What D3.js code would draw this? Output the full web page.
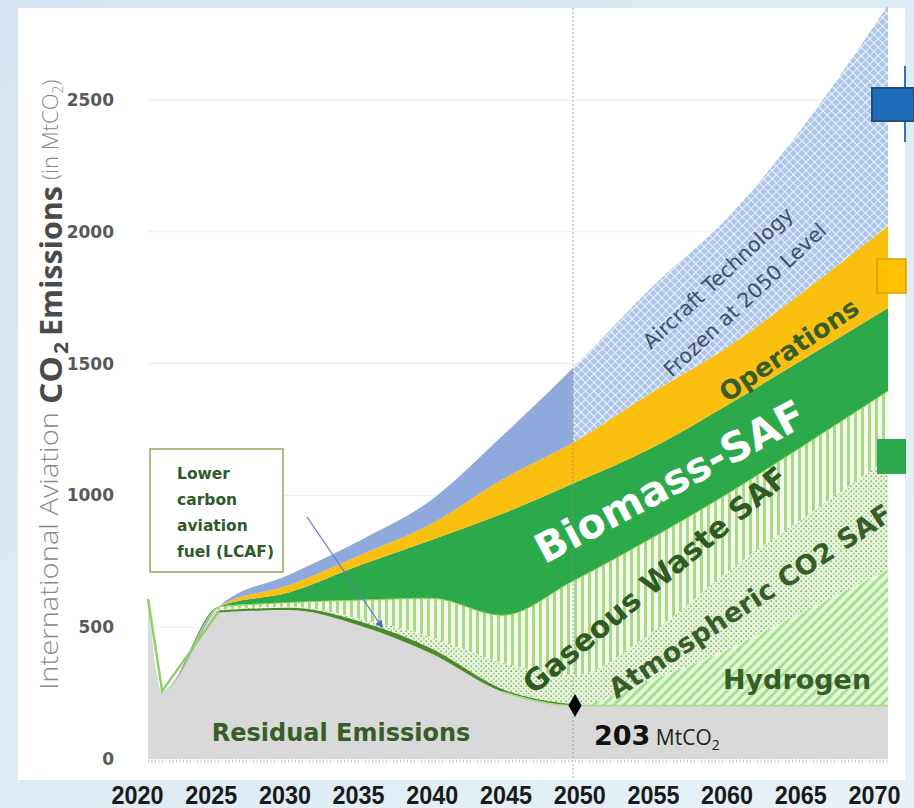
<!DOCTYPE html>
<html>
<head>
<meta charset="utf-8">
<script src="https://cdn.jsdelivr.net/npm/d3@7"></script>
<style>
  html, body { margin: 0; padding: 0; }
  body { width: 914px; height: 808px; overflow: hidden; background: #e3eef5; }
  svg { display: block; }
</style>
</head>
<body>
<svg id="chart" width="914" height="808"></svg>
<script>
// ---------------- DATA ----------------
const years        = [2020, 2021, 2025, 2030, 2035, 2040, 2045, 2050, 2055, 2060, 2065, 2070];
const residual     = [608, 258, 560, 565, 505, 400, 255, 203, 203, 203, 203, 203];
const lcaf         = [0, 0, 0, 5, 12, 15, 6, 0, 0, 0, 0, 0];
const hydrogen     = [0, 0, 0, 0, 0, 0, 0, 0, 97, 217, 367, 514];
const atmospheric  = [0, 0, 5, 8, 15, 48, 104, 115, 180, 300, 360, 423];
const gaseousWaste = [0, 0, 13, 16, 71, 147, 180, 357, 358, 293, 273, 256];
const biomass      = [0, 0, 0, 39, 133, 221, 385, 370, 342, 337, 327, 315];
const operations   = [0, 0, 0, 27, 38, 61, 130, 155, 210, 220, 260, 311];
const aircraftTech = [0, 0, 0, 40, 56, 91, 165, 283, 400, 495, 640, 838];

const seriesKeys = ["residual", "lcaf", "hydrogen", "atmospheric", "gaseousWaste", "biomass", "operations", "aircraftTech"];
const seriesArrays = { residual, lcaf, hydrogen, atmospheric, gaseousWaste, biomass, operations, aircraftTech };

const yTicks = [0, 500, 1000, 1500, 2000, 2500];
const xTicks = [2020, 2025, 2030, 2035, 2040, 2045, 2050, 2055, 2060, 2065, 2070];
const frozenYear = 2050;
const residualLabelValue = 203;

// ---------------- SETUP ----------------
const svg = d3.select("#chart");
const table = years.map((yr, i) => {
  const row = { year: yr };
  seriesKeys.forEach(k => row[k] = seriesArrays[k][i]);
  return row;
});
const stacked = d3.stack().keys(seriesKeys)(table);
const byKey = {};
stacked.forEach(s => byKey[s.key] = s);

const x = d3.scaleLinear().domain([2020, 2050, 2070]).range([148, 573, 888]);
const xLabel = d3.scaleLinear().domain([2020, 2070]).range([137, 874]);
const y = d3.scaleLinear().domain([0, 2500]).range([759, 100]);

const defs = svg.append("defs");
const bgGrad = defs.append("linearGradient").attr("id", "bg").attr("x1", 0).attr("y1", 0).attr("x2", 1).attr("y2", 1);
bgGrad.append("stop").attr("offset", "0%").attr("stop-color", "#d3e5f0");
bgGrad.append("stop").attr("offset", "100%").attr("stop-color", "#e8f1f7");

// aircraft crosshatch
const pAir = defs.append("pattern").attr("id", "pAir").attr("patternUnits", "userSpaceOnUse")
  .attr("width", 6).attr("height", 6).attr("patternTransform", "rotate(45)");
pAir.append("rect").attr("width", 6).attr("height", 6).attr("fill", "#adc6ec");
pAir.append("path").attr("d", "M0 0H6M0 0V6").attr("stroke", "#f1f5fc").attr("stroke-width", 1.8);

// hydrogen diagonal stripes
const pH = defs.append("pattern").attr("id", "pH").attr("patternUnits", "userSpaceOnUse")
  .attr("width", 7).attr("height", 7).attr("patternTransform", "rotate(45)");
pH.append("rect").attr("width", 7).attr("height", 7).attr("fill", "#e6f8dd");
pH.append("rect").attr("width", 3).attr("height", 7).attr("fill", "#a3e38a");

// gaseous vertical stripes
const pG = defs.append("pattern").attr("id", "pG").attr("patternUnits", "userSpaceOnUse")
  .attr("width", 7).attr("height", 7);
pG.append("rect").attr("width", 7).attr("height", 7).attr("fill", "#f3faec");
pG.append("rect").attr("width", 3).attr("height", 7).attr("fill", "#a8d985");

// atmospheric dots
const pA = defs.append("pattern").attr("id", "pA").attr("patternUnits", "userSpaceOnUse")
  .attr("width", 5).attr("height", 5);
pA.append("rect").attr("width", 5).attr("height", 5).attr("fill", "#e9f5de");
pA.append("circle").attr("cx", 1.2).attr("cy", 1.2).attr("r", 0.9).attr("fill", "#7fb85f");
pA.append("circle").attr("cx", 3.7).attr("cy", 3.7).attr("r", 0.9).attr("fill", "#9bcb7e");

// clip paths left/right of 2050
defs.append("clipPath").attr("id", "clipL").append("rect")
  .attr("x", 0).attr("y", 0).attr("width", x(frozenYear)).attr("height", 808);
defs.append("clipPath").attr("id", "clipR").append("rect")
  .attr("x", x(frozenYear)).attr("y", 0).attr("width", 914 - x(frozenYear)).attr("height", 808);

// ---------------- BACKGROUND ----------------
svg.append("rect").attr("width", 914).attr("height", 808).attr("fill", "url(#bg)");
svg.append("rect").attr("x", 18).attr("y", 8).attr("width", 887).attr("height", 772).attr("fill", "#ffffff");

// gridlines
svg.append("g").selectAll("line").data(yTicks.filter(d => d > 0)).join("line")
  .attr("x1", x(2020)).attr("x2", x(2070))
  .attr("y1", d => y(d)).attr("y2", d => y(d))
  .attr("stroke", "#ececec").attr("stroke-width", 1);

// ---------------- AREAS ----------------
const area = d3.area()
  .x(d => x(d.data.year))
  .y0(d => y(d[0]))
  .y1(d => y(d[1]))
  .curve(d3.curveMonotoneX);

const fills = {
  residual: "#d9d9d9",
  lcaf: "#4f8a2f",
  hydrogen: "url(#pH)",
  atmospheric: "url(#pA)",
  gaseousWaste: "url(#pG)",
  biomass: "#2ca94b",
  operations: "#fbbf10",
  aircraftTech: "#8fa9dc"
};

const gAreas = svg.append("g");
seriesKeys.forEach(k => {
  if (k === "aircraftTech") {
    gAreas.append("path").datum(byKey[k]).attr("d", area).attr("fill", fills[k]).attr("clip-path", "url(#clipL)");
    gAreas.append("path").datum(byKey[k]).attr("d", area).attr("fill", "url(#pAir)").attr("clip-path", "url(#clipR)");
  } else {
    gAreas.append("path").datum(byKey[k]).attr("d", area).attr("fill", fills[k]);
  }
});

const lineTop = () => d3.line()
  .x(d => x(d.data.year)).y(d => y(d[1])).curve(d3.curveMonotoneX);

gAreas.append("path").datum(byKey.lcaf.filter(d => d.data.year >= 2025 && d.data.year <= 2050))
  .attr("d", lineTop()).attr("fill", "none").attr("stroke", "#4a8a2c").attr("stroke-width", 2);
gAreas.append("path").datum(byKey.residual.filter(d => d.data.year <= 2025))
  .attr("d", d3.line().x(d => x(d.data.year)).y(d => y(d[1])))
  .attr("fill", "none").attr("stroke", "#8fcf6c").attr("stroke-width", 2.5);
gAreas.append("path").datum(byKey.residual.filter(d => d.data.year >= 2045))
  .attr("d", lineTop()).attr("fill", "none").attr("stroke", "#a6dc8a").attr("stroke-width", 1.5);
gAreas.append("path").datum(byKey.gaseousWaste.filter(d => d.data.year >= 2025))
  .attr("d", lineTop()).attr("fill", "none").attr("stroke", "#92d050").attr("stroke-width", 1);

// 2050 dotted line
svg.append("line")
  .attr("x1", x(frozenYear)).attr("x2", x(frozenYear)).attr("y1", 8).attr("y2", 780)
  .attr("stroke", "#8c8c8c").attr("stroke-width", 1.2).attr("stroke-dasharray", "2,2").attr("opacity", 0.6);

// x axis dotted baseline
svg.append("line")
  .attr("x1", x(2020)).attr("x2", x(2070)).attr("y1", y(0) + 2).attr("y2", y(0) + 2)
  .attr("stroke", "#c8c8c8").attr("stroke-width", 3).attr("stroke-dasharray", "1,2.5");

// ---------------- AXES ----------------
const yAxis = svg.append("g").attr("transform", "translate(114,0)")
  .call(d3.axisLeft(y).tickValues(yTicks).tickSize(0).tickPadding(0).tickFormat(d3.format("d")));
yAxis.select(".domain").remove();
yAxis.selectAll("text")
  .attr("font-family", "DejaVu Sans").attr("font-weight", "bold").attr("font-size", 17)
  .attr("fill", "#595959");

const xAxis = svg.append("g").attr("transform", "translate(0,786)")
  .call(d3.axisBottom(xLabel).tickValues(xTicks).tickSize(0).tickPadding(0).tickFormat(d3.format("d")));
xAxis.select(".domain").remove();
xAxis.selectAll("text")
  .attr("font-family", "'Liberation Sans', Arial, sans-serif")
  .attr("font-weight", "bold").attr("font-size", 25).attr("fill", "#1a1a1a").attr("dy", "0.72em")
  .attr("textLength", 52).attr("lengthAdjust", "spacingAndGlyphs");

// y title (rotated pieces)
const titleFont = "'Open Sans', sans-serif";
function vText(txt, yStart, len, size, weight, color, xBase) {
  const t = svg.append("text")
    .attr("transform", `translate(${xBase},${yStart}) rotate(-90)`)
    .attr("font-family", titleFont).attr("font-size", size).attr("font-weight", weight)
    .attr("fill", color).text(txt);
  if (len) t.attr("textLength", len).attr("lengthAdjust", "spacingAndGlyphs");
  return t;
}
vText("International Aviation", 690, 278, 25, 300, "#8a8a8a", 58);
vText("CO", 404, 48, 31, 700, "#4a4a4a", 62);
vText("2", 354, 12, 19, 700, "#4a4a4a", 68);
vText("Emissions", 336, 150, 31, 700, "#4a4a4a", 62);
const tIn = svg.append("text").attr("transform", "translate(58,180) rotate(-90)")
  .attr("font-family", titleFont).attr("font-weight", 300).attr("fill", "#8a8a8a");
tIn.append("tspan").text("(in MtCO").attr("font-size", 22);
tIn.append("tspan").text("2").attr("font-size", 14).attr("dy", 5);
tIn.append("tspan").text(")").attr("font-size", 22).attr("dy", -5);

// ---------------- LABELS ----------------
const darkGreen = "#375e29";
const lblFont = "'DejaVu Sans', Verdana, sans-serif";

function rotLabel(txt, cx, cy, angle, size, color, weight) {
  return svg.append("text")
    .attr("transform", `translate(${cx},${cy}) rotate(${angle})`)
    .attr("text-anchor", "middle").attr("dominant-baseline", "central")
    .attr("font-family", lblFont).attr("font-size", size).attr("font-weight", weight || "bold")
    .attr("fill", color).text(txt);
}

svg.append("text").attr("x", 341).attr("y", 741).attr("text-anchor", "middle")
  .attr("font-family", lblFont).attr("font-weight", "bold").attr("font-size", 24).attr("fill", darkGreen)
  .text("Residual Emissions");

svg.append("text").attr("x", 797).attr("y", 689).attr("text-anchor", "middle")
  .attr("font-family", lblFont).attr("font-weight", "bold").attr("font-size", 27).attr("fill", darkGreen)
  .text("Hydrogen");

rotLabel("Atmospheric CO2 SAF", 750, 601, -33, 27, darkGreen, "bold");
rotLabel("Gaseous Waste SAF", 655, 580, -40, 30, "#2f5a23", "bold");
rotLabel("Biomass-SAF", 670, 482, -28, 41, "#ffffff", "bold");
rotLabel("Operations", 789, 350, -34, 26, darkGreen, "bold");
rotLabel("Aircraft Technology", 718, 278, -43, 20.5, "#3f4f66", "normal");
rotLabel("Frozen at 2050 Level", 745, 300, -43, 20.5, "#3f4f66", "normal");

// 203 MtCO2 marker
svg.append("path")
  .attr("d", d3.symbol().type(d3.symbolDiamond).size(150)())
  .attr("transform", `translate(${x(frozenYear) + 2},${y(residualLabelValue)})`)
  .attr("fill", "#000");
const lab = svg.append("text").attr("x", 594).attr("y", 745).attr("font-family", lblFont);
lab.append("tspan").text(residualLabelValue).attr("font-weight", "bold").attr("font-size", 27).attr("fill", "#111");
lab.append("tspan").text(" MtCO").attr("font-size", 21).attr("fill", "#222").attr("font-family", titleFont);
lab.append("tspan").text("2").attr("font-size", 14).attr("fill", "#222").attr("dy", 5).attr("font-family", titleFont);

// LCAF callout
svg.append("rect").attr("x", 150).attr("y", 449).attr("width", 133).attr("height", 123)
  .attr("fill", "#ffffff").attr("stroke", "#8ea862").attr("stroke-width", 1.5);
const lt = svg.append("text").attr("font-family", lblFont).attr("font-weight", "bold")
  .attr("font-size", 15.5).attr("fill", "#2f5a2a");
["Lower", "carbon", "aviation", "fuel (LCAF)"].forEach((t, i) => {
  lt.append("tspan").attr("x", 177).attr("y", 479 + i * 26).text(t);
});
defs.append("marker").attr("id", "arr").attr("viewBox", "0 0 10 10").attr("refX", 8).attr("refY", 5)
  .attr("markerWidth", 6).attr("markerHeight", 6).attr("orient", "auto")
  .append("path").attr("d", "M0,0L10,5L0,10z").attr("fill", "#4472c4");
svg.append("line").attr("x1", 307).attr("y1", 517).attr("x2", 382).attr("y2", 627)
  .attr("stroke", "#5b7fbf").attr("stroke-width", 1.3).attr("marker-end", "url(#arr)");

// right edge markers (cut-off legend)
svg.append("line").attr("x1", 905).attr("x2", 905).attr("y1", 66).attr("y2", 142)
  .attr("stroke", "#2e75b6").attr("stroke-width", 2);
svg.append("rect").attr("x", 872).attr("y", 88).attr("width", 42).attr("height", 33)
  .attr("fill", "#1f6bb8").attr("stroke", "#1d4f86").attr("stroke-width", 2);
svg.append("rect").attr("x", 877).attr("y", 259).attr("width", 29).attr("height", 34)
  .attr("fill", "#ffc000").attr("stroke", "#d6a008").attr("stroke-width", 1.5);
svg.append("rect").attr("x", 877).attr("y", 439).attr("width", 29).attr("height", 35)
  .attr("fill", "#2ea84e");
</script>
</body>
</html>
